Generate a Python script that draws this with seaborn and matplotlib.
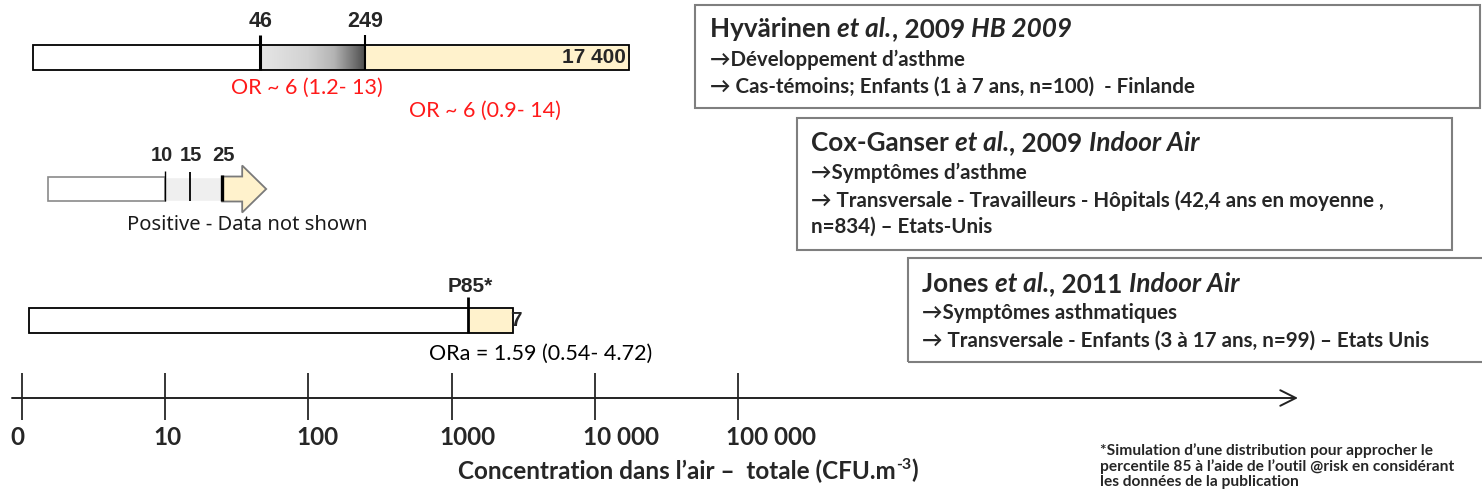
import numpy as np
import pandas as pd
import matplotlib
matplotlib.use("Agg")
import matplotlib.pyplot as plt
import seaborn as sns
from matplotlib.patches import Rectangle, Polygon
from matplotlib.colors import LinearSegmentedColormap
from matplotlib import font_manager as fm

# ---------------- data ----------------
studies = ["Hyvärinen et al., 2009", "Cox-Ganser et al., 2009", "Jones et al., 2011"]
bar_start = [0.8, 1.8, 0.5]            # CFU/m3 (schematic start of each bar)
hyv_cuts = [46, 249]
hyv_max = 17400
hyv_max_label = "17 400"
hyv_or = ["OR ~ 6 (1.2- 13)", "OR ~ 6 (0.9- 14)"]
cox_cuts = [10, 15, 25]
cox_note = "Positive - Data not shown"
jones_p85 = 1300
jones_max = 2700
jones_p85_label = "P85*"
jones_or = "ORa = 1.59 (0.54- 4.72)"
axis_ticks = [0, 10, 100, 1000, 10000, 100000]
axis_tick_labels = ["0", "10", "100", "1000", "10 000", "100 000"]

box_titles = [
    [("Hyvärinen ", "normal"), ("et al.", "italic"), (", 2009 ", "normal"), ("HB 2009", "italic")],
    [("Cox-Ganser ", "normal"), ("et al.", "italic"), (", 2009 ", "normal"), ("Indoor Air", "italic")],
    [("Jones ", "normal"), ("et al.", "italic"), (", 2011 ", "normal"), ("Indoor Air", "italic")],
]
box_lines = [
    ["\u2192Développement d\u2019asthme",
     "\u2192 Cas-témoins; Enfants (1 à 7 ans, n=100)  - Finlande"],
    ["\u2192Symptômes d\u2019asthme",
     "\u2192 Transversale - Travailleurs - Hôpitals (42,4 ans en moyenne ,",
     "n=834) \u2013 Etats-Unis"],
    ["\u2192Symptômes asthmatiques",
     "\u2192 Transversale - Enfants (3 à 17 ans, n=99) \u2013 Etats Unis"],
]
footnote = ("*Simulation d\u2019une distribution pour approcher le\n"
            "percentile 85 à l\u2019aide de l\u2019outil @risk en considérant\n"
            "les données de la publication")

# ---------------- style ----------------
sns.set_theme(style="white")
names = {f.name for f in fm.fontManager.ttflist}
NARROW = [f for f in ["Liberation Sans Narrow", "Liberation Sans"] if f in names] + ["DejaVu Sans"]
MAIN = ["Lato", "DejaVu Sans"]
plt.rcParams["font.family"] = MAIN

W, H = 1482, 494
fig = plt.figure(figsize=(W / 100, H / 100), dpi=100)
ax = fig.add_axes([0, 0, 1, 1])

DEC = 143.2   # px per decade
X0 = 22       # px of value 0
ROW0, ROWSTEP = 57.5, 131.5
PT = 0.72     # points per pixel


def u(v):
    v = np.asarray(v, dtype=float)
    return np.where(v < 10, v / 10.0, np.log10(np.maximum(v, 1e-9)))


def upx(px):
    return (px - X0) / DEC


def rpx(py):
    return (py - ROW0) / ROWSTEP


HB = 0.19 / 2   # half bar height (rows)
CREAM = "#fff2cc"

# white base bars (seaborn)
white_end = [hyv_cuts[0], cox_cuts[0], jones_p85]
df = pd.DataFrame({"study": studies,
                   "u_start": u(bar_start),
                   "u_end": u(white_end)})
df["length"] = df["u_end"] - df["u_start"]
sns.barplot(data=df, x="length", y="study", orient="h", color="white",
            width=2 * HB, errorbar=None, saturation=1,
            left=df["u_start"].values, edgecolor="none", linewidth=0, ax=ax)

# ---------- row 0 : Hyvärinen ----------
r = 0
u46, u249, umax = float(u(hyv_cuts[0])), float(u(hyv_cuts[1])), float(u(hyv_max))
cmap = LinearSegmentedColormap.from_list(
    "g", [(0, "#e6e6e6"), (0.45, "#d2d2d2"), (0.7, "#b4b4b4"), (0.9, "#6e6e6e"), (1, "#4a4a4a")])
ax.imshow(np.linspace(0, 1, 256)[None, :], cmap=cmap, aspect="auto",
          extent=[u46, u249, r + HB, r - HB], zorder=1.5, interpolation="bilinear")
ax.barh(r, umax - u249, left=u249, height=2 * HB, color=CREAM, zorder=1.5)
ax.barh(r, umax - float(u(bar_start[0])), left=float(u(bar_start[0])), height=2 * HB,
        fill=False, edgecolor="black", lw=1.3, zorder=3)
ax.vlines([u46, u249], r + rpx(35) - rpx(57.5), r + HB, color="black", lw=[2.2, 1.5], zorder=4)
for cut in hyv_cuts:
    ax.annotate(str(cut), xy=(float(u(cut)), r), xytext=(0, 36 * PT), textcoords="offset points",
                ha="center", va="center", fontsize=15.5, fontweight="bold", family=NARROW)
ax.annotate(hyv_max_label, xy=(umax, r), xytext=(-3 * PT, 0), textcoords="offset points",
            ha="right", va="center", fontsize=15, fontweight="bold", family=NARROW, zorder=5)
ax.annotate(hyv_or[0], xy=((u46 + u249) / 2, r), xytext=(-6 * PT, -30 * PT), textcoords="offset points",
            ha="center", va="center", fontsize=15.5, color="#ff1a1a")
ax.annotate(hyv_or[1], xy=((u249 + umax) / 2, r), xytext=(-12 * PT, -53 * PT), textcoords="offset points",
            ha="center", va="center", fontsize=15.5, color="#ff1a1a")

# ---------- row 1 : Cox-Ganser ----------
r = 1
u10, u15, u25 = [float(u(c)) for c in cox_cuts]
ustart = float(u(bar_start[1]))
ax.barh(r, u25 - u10, left=u10, height=2 * HB, color="#efefef", zorder=1.5)
ax.barh(r, u10 - ustart, left=ustart, height=2 * HB, fill=False,
        edgecolor="#8a8a8a", lw=1.2, zorder=3)
ax.vlines([u10], r - HB - 6 / ROWSTEP, r + HB, color="black", lw=1.0, zorder=4)
ax.vlines([u15], r - HB - 5 / ROWSTEP, r + HB, color="black", lw=1.3, zorder=4)
shaft, head, hh = 20 / DEC, 24 / DEC, 23.5 / ROWSTEP
arrow = Polygon([(u25, r - HB), (u25 + shaft, r - HB), (u25 + shaft, r - hh),
                 (u25 + shaft + head, r), (u25 + shaft, r + hh), (u25 + shaft, r + HB),
                 (u25, r + HB)], closed=True, facecolor=CREAM, edgecolor="#7a7a7a",
                lw=1.3, zorder=3)
ax.add_patch(arrow)
ax.vlines([u25], r - HB - 2 / ROWSTEP, r + HB, color="black", lw=2.4, zorder=4)
for cut, dx in zip(cox_cuts, [-3, 1, 1]):
    ax.annotate(str(cut), xy=(float(u(cut)), r), xytext=(dx * PT, 34 * PT), textcoords="offset points",
                ha="center", va="center", fontsize=14.5, fontweight="bold", family=NARROW)
ax.annotate(cox_note, xy=(u10, r), xytext=(-38 * PT, -36 * PT), textcoords="offset points",
            ha="left", va="center", fontsize=14.5, family=["Noto Sans", "DejaVu Sans"], color="#1a1a1a")

# ---------- row 2 : Jones ----------
r = 2
up85, ujmax = float(u(jones_p85)), float(u(jones_max))
ujs = float(u(bar_start[2]))
ax.barh(r, ujmax - up85, left=up85, height=2 * HB, color=CREAM, zorder=1.5)
ax.barh(r, ujmax - ujs, left=ujs, height=2 * HB, fill=False, edgecolor="black", lw=1.3, zorder=3)
ax.vlines([up85], r - HB - 11 / ROWSTEP, r + HB, color="black", lw=2.0, zorder=4)
ax.annotate(jones_p85_label, xy=(up85, r), xytext=(2 * PT, 34 * PT), textcoords="offset points",
            ha="center", va="center", fontsize=15, fontweight="bold", family=NARROW)
ax.annotate("7", xy=(ujmax, r), xytext=(-3 * PT, 0), textcoords="offset points",
            ha="left", va="center", fontsize=15, fontweight="bold", family=NARROW, zorder=5)
ax.annotate(jones_or, xy=(up85, r), xytext=(-39 * PT, -33 * PT), textcoords="offset points",
            ha="left", va="center", fontsize=15.5, color="black")

# ---------- concentration axis ----------
r_axis = rpx(398)
ax.annotate("", xy=(upx(1298), r_axis), xytext=(upx(12), r_axis),
            arrowprops=dict(arrowstyle="->", lw=1.4, color="#222222", mutation_scale=28,
                            shrinkA=0, shrinkB=0))
ax.vlines(u(axis_ticks), rpx(373), rpx(420), color="black", lw=1.1)
for t, lab in zip(axis_ticks, axis_tick_labels):
    ax.annotate(lab, xy=(float(u(t)), r_axis), xytext=(-12 * PT, -39 * PT), textcoords="offset points",
                ha="left", va="center", fontsize=17.5, fontweight="bold")


# ---------- helper for mixed-style text ----------
def chain(xpx, ypx, parts, size, weight="bold"):
    t = None
    for txt, style, *rest in parts:
        kw = dict(fontsize=rest[0] if len(rest) > 0 else size, fontweight=weight,
                  fontstyle=style, family=MAIN, annotation_clip=False)
        dy = rest[1] if len(rest) > 1 else 0
        if t is None:
            t = ax.annotate(txt, xy=(xpx / W, 1 - ypx / H), xycoords="axes fraction",
                            ha="left", va="baseline", **kw)
        else:
            t = ax.annotate(txt, xy=(1, 0), xycoords=t, xytext=(0, dy), textcoords="offset points",
                            ha="left", va="bottom", **kw)
    return t


# x-axis title
chain(458, 479, [("Concentration dans l\u2019air \u2013  totale (CFU.m", "normal"),
                 ("-3", "normal", 11.5, 8), (")", "normal", 17.5, -7)], 17.5)

# footnote
ax.text(1100 / W, 1 - 443 / H, footnote, transform=ax.transAxes, ha="left", va="top",
        fontsize=11.2, fontweight="bold", linespacing=1.1, family=MAIN)

# ---------- reference boxes ----------
boxes = [(695, 5, 1480, 108), (797, 118, 1452, 250), (908, 258, 1484, 362)]
title_y = [37, 151, 292]
line_y = [[66, 93], [179, 207, 233], [319, 347]]
text_x = [710, 811, 922]
for (l, tp, rr, b), parts, lines, ty, ly, tx in zip(boxes, box_titles, box_lines, title_y, line_y, text_x):
    ax.add_patch(Rectangle((l / W, 1 - b / H), (rr - l) / W, (b - tp) / H, transform=ax.transAxes,
                           fill=False, edgecolor="#7f7f7f", lw=1.5, clip_on=False))
    chain(tx, ty, parts, 18.8)
    for line, yy in zip(lines, ly):
        ax.text(tx / W, 1 - yy / H, line, transform=ax.transAxes, ha="left", va="baseline",
                fontsize=14.8, fontweight="bold", family=MAIN)

ax.set_xlim(upx(0), upx(W))
ax.set_ylim(rpx(H), rpx(0))
ax.axis("off")
fig.savefig("out.png", dpi=100)
